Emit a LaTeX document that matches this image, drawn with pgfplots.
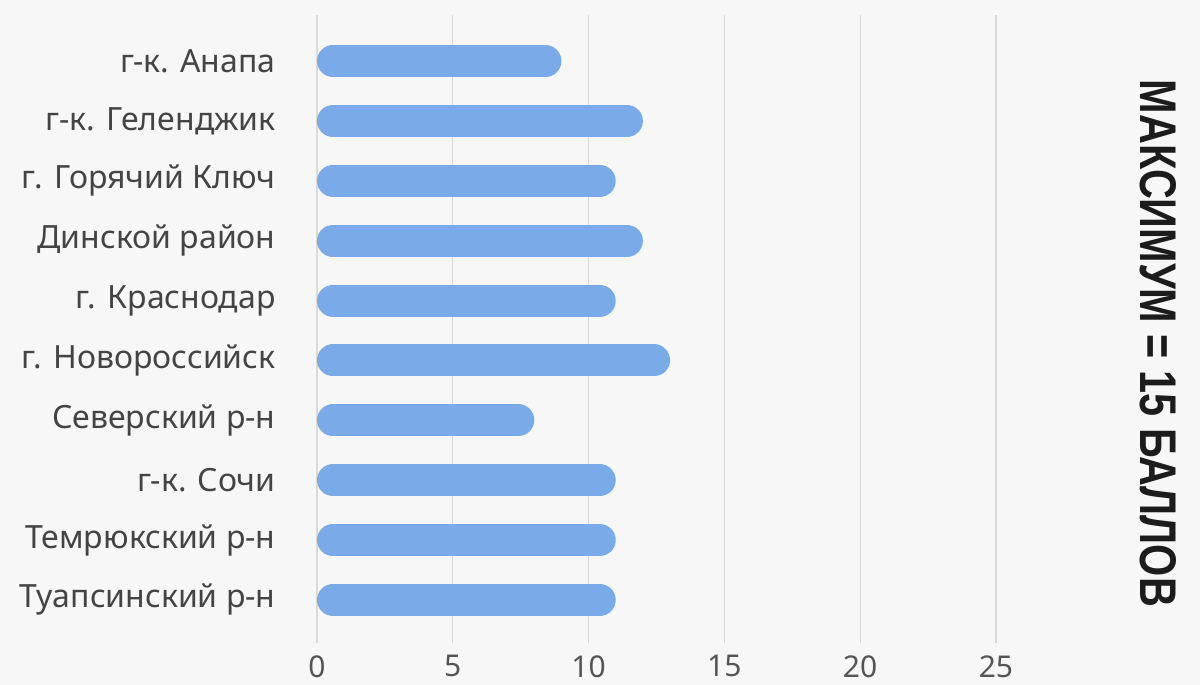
\documentclass[border=0pt]{standalone}
\usepackage{pgfplots}
\pgfplotsset{compat=1.18}
\usepackage{fontspec}
\usepackage{graphicx}
\setmainfont{Noto Sans}
\newfontfamily\boldfont{Liberation Sans}
\definecolor{barc}{HTML}{7BAAE8}
\definecolor{bg}{HTML}{F7F7F7}
\definecolor{gridc}{HTML}{DADADA}
\definecolor{lab}{HTML}{444444}
\definecolor{tickc}{HTML}{555555}
\definecolor{big}{HTML}{1C1C1C}
\tikzset{mybar/.style={draw=barc, no markers, line width=16pt, line cap=round, shorten <=8pt, shorten >=8pt}}
\begin{document}
\begin{tikzpicture}
\fill[bg] (0pt,0pt) rectangle (600pt,342.5pt);
\useasboundingbox (0pt,0pt) rectangle (600pt,342.5pt);
\begin{axis}[
  at={(158.5pt,21pt)}, anchor=south west,
  scale only axis, width=380.2pt, height=314pt,
  xmin=0, xmax=28, ymin=-0.77, ymax=9.72, y dir=reverse,
  axis line style={draw=none},
  major tick length=0pt,
  xtick={0,5,10,15,20,25}, ytick={0,1,2,3,4,5,6,7,8,9},
  yticklabels={г-к. Анапа, г-к. Геленджик, г. Горячий Ключ, Динской район, г. Краснодар, г. Новороссийск, Северский р-н, г-к. Сочи, Темрюкский р-н, Туапсинский р-н},
  xmajorgrids, grid style={gridc, line width=0.6pt},
  yticklabel style={anchor=east, inner sep=0pt, xshift=-20.5pt, font=\fontsize{16}{18}\selectfont, text=lab},
  xticklabel style={anchor=north, inner sep=0pt, yshift=-6pt, font=\fontsize{15}{18}\selectfont, text=tickc},
  /pgf/number format/assume math mode=true,
  clip=false,
]
\addplot[mybar] coordinates {(0,0) (9,0)};
\addplot[mybar] coordinates {(0,1) (12,1)};
\addplot[mybar] coordinates {(0,2) (11,2)};
\addplot[mybar] coordinates {(0,3) (12,3)};
\addplot[mybar] coordinates {(0,4) (11,4)};
\addplot[mybar] coordinates {(0,5) (13,5)};
\addplot[mybar] coordinates {(0,6) (8,6)};
\addplot[mybar] coordinates {(0,7) (11,7)};
\addplot[mybar] coordinates {(0,8) (11,8)};
\addplot[mybar] coordinates {(0,9) (11,9)};
\end{axis}
\node[rotate=-90, inner sep=0pt, text=big] at (579pt,170.75pt) {\resizebox{263.5pt}{18pt}{\boldfont\bfseries МАКСИМУМ = 15 БАЛЛОВ}};
\end{tikzpicture}
\end{document}
